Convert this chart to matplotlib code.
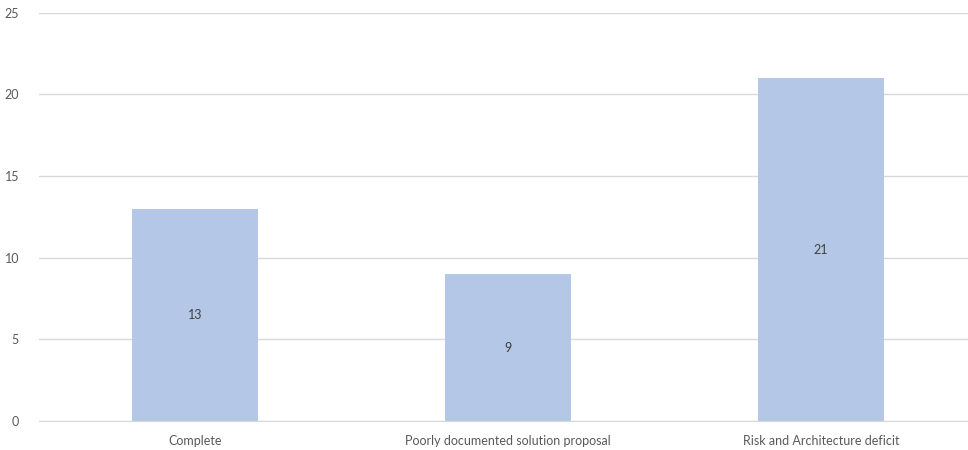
import matplotlib
matplotlib.use("Agg")
import matplotlib.pyplot as plt

# categories and counts
categories = ["Complete", "Poorly documented solution proposal", "Risk and Architecture deficit"]
counts = [13, 9, 21]
y_ticks = [0, 5, 10, 15, 20, 25]

plt.rcParams['font.family'] = ['Lato', 'DejaVu Sans']

fig = plt.figure(figsize=(9.68, 4.5), dpi=100)
ax = fig.add_axes([38.5 / 968, 29 / 450, (968 - 38.5) / 968, (421 - 12.7) / 450])

x = range(len(categories))
bars = ax.bar(x, counts, width=0.40, color='#B4C7E7', zorder=2)

# value labels in the middle of each bar
for b, v in zip(bars, counts):
    ax.text(b.get_x() + b.get_width() / 2, v / 2, str(v), ha='center', va='center',
            fontsize=9, color='#404040')

ax.set_xlim(-0.5, -0.5 + 929.5 / 313)
ax.set_ylim(0, 25)
ax.set_yticks(y_ticks)
ax.set_xticks(list(x))
ax.set_xticklabels(categories)
ax.grid(axis='y', color='#D9D9D9', linewidth=1, zorder=0)
for s in ['top', 'right', 'left']:
    ax.spines[s].set_visible(False)
ax.spines['bottom'].set_color('#D9D9D9')
ax.tick_params(axis='both', length=0, labelsize=9, labelcolor='#595959')
ax.tick_params(axis='y', pad=14)
ax.tick_params(axis='x', pad=10)

fig.savefig("out.png", dpi=100)
